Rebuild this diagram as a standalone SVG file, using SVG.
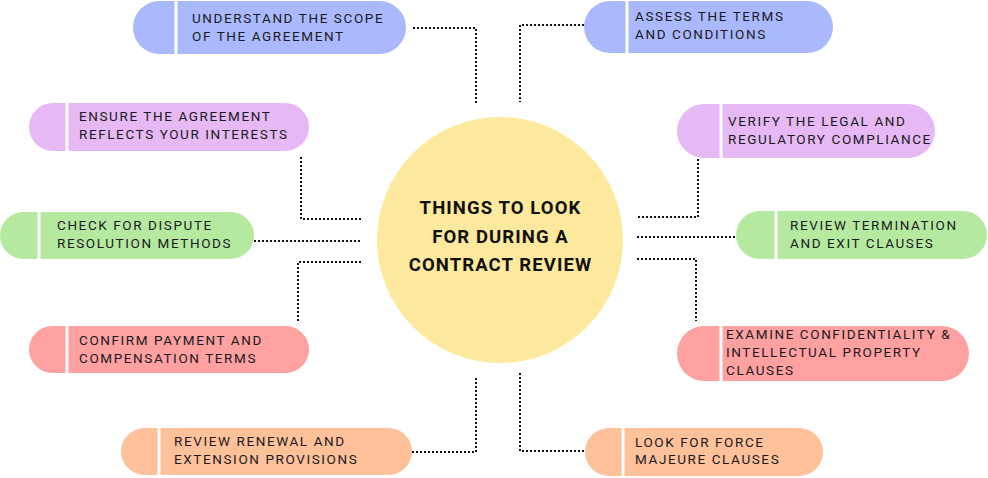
<svg xmlns="http://www.w3.org/2000/svg" width="988" height="478" viewBox="0 0 988 478">
<style>
.lbl{font-family:Roboto,"Liberation Sans",sans-serif;font-size:13.5px;letter-spacing:1.6px;fill:#1a1a22}
.ttl{font-family:Roboto,"Liberation Sans",sans-serif;font-size:18.5px;font-weight:bold;letter-spacing:1.1px;fill:#111;text-anchor:middle}
.div{stroke:#fff;stroke-width:3}
.con path{fill:none;stroke:#111;stroke-width:2;stroke-dasharray:2 2}
.blue{fill:#aab9fe}.lilac{fill:#e6b9f4}.green{fill:#b5e9a0}.red{fill:#fea1a0}.peach{fill:#ffc199}
</style>
<rect width="988" height="478" fill="#fff"/>
<g class="con">
<path d="M413 28H476V104"/>
<path d="M584 25H520V102"/>
<path d="M301 157V219H362"/>
<path d="M254 241H362"/>
<path d="M361 262H298V322"/>
<path d="M698 159V217H637"/>
<path d="M637 237H736"/>
<path d="M637 259H696V321"/>
<path d="M412 452H476V376"/>
<path d="M520 373V451H585"/>
</g>
<g id="center">
<circle cx="500" cy="240" r="123" fill="#fde99d"/>
<text class="ttl" x="500.5" y="214">THINGS TO LOOK</text>
<text class="ttl" x="500.5" y="243">FOR DURING A</text>
<text class="ttl" x="500.5" y="271">CONTRACT REVIEW</text>
</g>
<g id="n1">
<rect class="blue" x="133" y="1" width="273" height="53" rx="26.5"/>
<line class="div" x1="176" y1="1" x2="176" y2="54"/>
<text class="lbl" x="192" y="23">UNDERSTAND THE SCOPE</text>
<text class="lbl" x="192" y="41">OF THE AGREEMENT</text>
</g>
<g id="n2">
<rect class="blue" x="584" y="1" width="249" height="52" rx="26"/>
<line class="div" x1="627" y1="1" x2="627" y2="53"/>
<text class="lbl" x="635" y="21">ASSESS THE TERMS</text>
<text class="lbl" x="635" y="39">AND CONDITIONS</text>
</g>
<g id="n3">
<rect class="lilac" x="29" y="103" width="280" height="48" rx="24"/>
<line class="div" x1="67" y1="103" x2="67" y2="151"/>
<text class="lbl" x="79" y="121">ENSURE THE AGREEMENT</text>
<text class="lbl" x="79" y="139">REFLECTS YOUR INTERESTS</text>
</g>
<g id="n4">
<rect class="green" x="0" y="212" width="254" height="47" rx="23.5"/>
<line class="div" x1="39" y1="212" x2="39" y2="259"/>
<text class="lbl" x="57" y="230">CHECK FOR DISPUTE</text>
<text class="lbl" x="57" y="248">RESOLUTION METHODS</text>
</g>
<g id="n5">
<rect class="red" x="29" y="326" width="280" height="47" rx="23.5"/>
<line class="div" x1="67" y1="326" x2="67" y2="373"/>
<text class="lbl" x="79" y="345">CONFIRM PAYMENT AND</text>
<text class="lbl" x="79" y="363">COMPENSATION TERMS</text>
</g>
<g id="n6">
<rect class="lilac" x="677" y="104" width="258" height="54" rx="27"/>
<line class="div" x1="721" y1="104" x2="721" y2="158"/>
<text class="lbl" x="728" y="126">VERIFY THE LEGAL AND</text>
<text class="lbl" x="728" y="144">REGULATORY COMPLIANCE</text>
</g>
<g id="n7">
<rect class="green" x="736" y="211" width="251" height="48" rx="24"/>
<line class="div" x1="776" y1="211" x2="776" y2="259"/>
<text class="lbl" x="790" y="230">REVIEW TERMINATION</text>
<text class="lbl" x="790" y="248">AND EXIT CLAUSES</text>
</g>
<g id="n8">
<rect class="red" x="677" y="326" width="292" height="55" rx="27.5"/>
<line class="div" x1="721" y1="326" x2="721" y2="381"/>
<text class="lbl" x="726" y="339">EXAMINE CONFIDENTIALITY &amp;</text>
<text class="lbl" x="726" y="357">INTELLECTUAL PROPERTY</text>
<text class="lbl" x="726" y="375">CLAUSES</text>
</g>
<g id="n9">
<rect class="peach" x="121" y="428" width="291" height="47" rx="23.5"/>
<line class="div" x1="159" y1="428" x2="159" y2="475"/>
<text class="lbl" x="174" y="446">REVIEW RENEWAL AND</text>
<text class="lbl" x="174" y="464">EXTENSION PROVISIONS</text>
</g>
<g id="n10">
<rect class="peach" x="585" y="428" width="238" height="48" rx="24"/>
<line class="div" x1="623" y1="428" x2="623" y2="476"/>
<text class="lbl" x="635" y="447">LOOK FOR FORCE</text>
<text class="lbl" x="635" y="464">MAJEURE CLAUSES</text>
</g>
</svg>
